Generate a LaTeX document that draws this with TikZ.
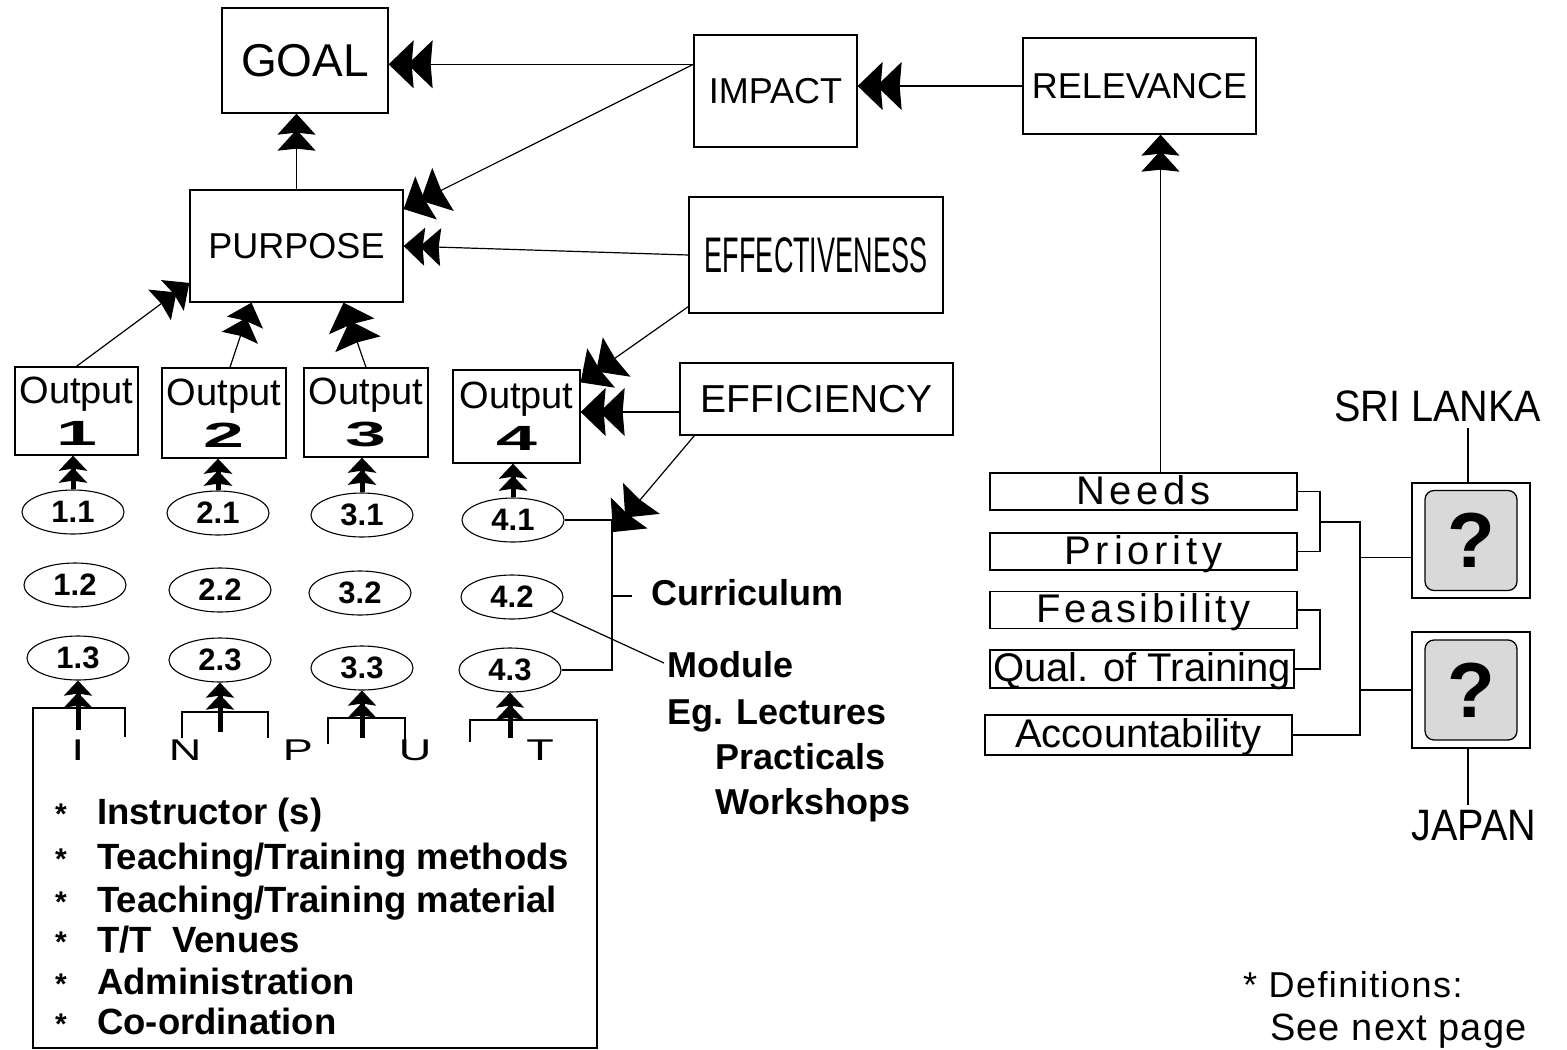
\documentclass[tikz,border=0pt]{standalone}
\usepackage{fontspec}
\usepackage{graphicx}
\setmainfont{Liberation Sans}
\usetikzlibrary{arrows.meta,shapes.geometric,calc}
\newcommand\FS[1]{\fontsize{#1}{#1}\selectfont}
\begin{document}
\begin{tikzpicture}[x=1pt,y=-1pt,
  box/.style={draw, line width=1.3pt, inner sep=0pt, align=center},
  ell/.style={draw, ellipse, line width=1.1pt, minimum width=102pt, minimum height=44pt, inner sep=0pt, font=\FS{31}\bfseries},
  crit/.style={draw, line width=1.3pt, inner sep=0pt, minimum height=37pt, text height=31pt, text depth=6pt, font=\FS{40}},
  ln/.style={line width=1.2pt},
  bigarr/.style={ln, -{Stealth[length=25pt,width=48pt,inset=2pt,sep=-6pt]Stealth[length=25pt,width=48pt,inset=2pt]}},
  medarr/.style={ln, -{Stealth[length=21pt,width=38pt,inset=2pt,sep=-5pt]Stealth[length=21pt,width=38pt,inset=2pt]}},
  smallarr/.style={line width=5pt, -{Stealth[length=15pt,width=28pt,inset=2pt,sep=-3pt]Stealth[length=15pt,width=28pt,inset=2pt]}},
  listtxt/.style={anchor=base west, inner sep=0pt, font=\FS{36.5}\bfseries},
  sidetxt/.style={anchor=base west, inner sep=0pt, font=\FS{36}\bfseries},
  startxt/.style={anchor=base west, inner sep=0pt, font=\FS{30}\bfseries},
  inlet/.style={anchor=base, inner sep=0pt, font=\FS{30}},
  qbox/.style={draw, line width=1.3pt, rounded corners=9pt, fill=black!15, minimum width=92pt, minimum height=100pt, inner sep=0pt, font=\FS{78}\bfseries}
]
\useasboundingbox (0,0) rectangle (1567,1050);

% ---- top boxes
\node[box, minimum width=166pt, minimum height=105pt, font=\FS{46}] (goal) at (305,60.5) {GOAL};
\node[box, minimum width=163pt, minimum height=112pt, font=\FS{36}] (impact) at (775.5,91) {IMPACT};
\node[box, minimum width=233pt, minimum height=96pt, font=\FS{36}] (relevance) at (1139.5,86) {RELEVANCE};
\node[box, minimum width=213pt, minimum height=112pt, font=\FS{36}] (purpose) at (296.5,246) {PURPOSE};
\node[box, minimum width=254pt, minimum height=116pt] (effect) at (816,255) {\scalebox{0.54}[1]{\FS{50}EFFECTIVENESS}};
\node[box, minimum width=273pt, minimum height=72pt, font=\FS{39}] (effic) at (816.5,399) {EFFICIENCY};

% ---- outputs
\node[box, minimum width=123pt, minimum height=88pt, font=\FS{38}] (o1) at (76.5,411) {Output\\[4pt]\scalebox{2.1}[1]{\bfseries\FS{35}1}};
\node[box, minimum width=124pt, minimum height=90pt, font=\FS{38}] (o2) at (224,413) {Output\\[4pt]\scalebox{2.1}[1]{\bfseries\FS{35}2}};
\node[box, minimum width=124pt, minimum height=89pt, font=\FS{38}] (o3) at (366,412.5) {Output\\[4pt]\scalebox{2.1}[1]{\bfseries\FS{35}3}};
\node[box, minimum width=127pt, minimum height=93pt, font=\FS{38}] (o4) at (516.5,416.5) {Output\\[4pt]\scalebox{2.1}[1]{\bfseries\FS{35}4}};

% ---- activities
\node[ell] (e11) at (73,512) {1.1};
\node[ell] (e12) at (75,585) {1.2};
\node[ell] (e13) at (78,658) {1.3};
\node[ell] (e21) at (218,513) {2.1};
\node[ell] (e22) at (220,590) {2.2};
\node[ell] (e23) at (220,660) {2.3};
\node[ell] (e31) at (362,515) {3.1};
\node[ell] (e32) at (360,593) {3.2};
\node[ell] (e33) at (362,668) {3.3};
\node[ell] (e41) at (513,520) {4.1};
\node[ell] (e42) at (512,597) {4.2};
\node[ell] (e43) at (510,670) {4.3};

% ---- INPUT box outline
\draw[ln] (125,737) -- (125,708) -- (33,708) -- (33,1048) -- (597,1048) -- (597,720) -- (470,720) -- (470,742);
\draw[ln] (182,738) -- (182,712) -- (268,712) -- (268,738);
\draw[ln] (328,744) -- (328,718) -- (405,718) -- (405,744);
\coordinate (tI) at (78,730);
\coordinate (tN) at (220,732);
\coordinate (tP) at (362,738);
\coordinate (tT) at (510,738);
\draw[smallarr] (tI) -- (e13.south);
\draw[smallarr] (tN) -- (e23.south);
\draw[smallarr] (tP) -- (e33.south);
\draw[smallarr] (tT) -- (e43.south);

\node[inlet] (lI) at (78,760) {\scalebox{1.5}[1]{I}};
\node[inlet] (lN) at (185,760) {\scalebox{1.5}[1]{N}};
\node[inlet] (lP) at (298,760) {\scalebox{1.5}[1]{P}};
\node[inlet] (lU) at (415,760) {\scalebox{1.5}[1]{U}};
\node[inlet] (lT) at (540,760) {\scalebox{1.5}[1]{T}};

\node[startxt] (s1) at (55,824) {*};
\node[startxt] (s2) at (55,869) {*};
\node[startxt] (s3) at (55,912) {*};
\node[startxt] (s4) at (55,952) {*};
\node[startxt] (s5) at (55,994) {*};
\node[startxt] (s6) at (55,1034) {*};
\node[listtxt] (t1) at (97,824) {Instructor (s)};
\node[listtxt] (t2) at (97,869) {Teaching/Training methods};
\node[listtxt] (t3) at (97,912) {Teaching/Training material};
\node[listtxt] (t4) at (97,952) {T/T\ \ Venues};
\node[listtxt] (t5) at (97,994) {Administration};
\node[listtxt] (t6) at (97,1034) {Co-ordination};

% ---- curriculum side
\node[sidetxt] (curr) at (651,605) {Curriculum};
\node[sidetxt] (module) at (667,677) {Module};
\node[sidetxt] (eg) at (667,724) {Eg. Lectures};
\node[sidetxt] (prac) at (715,769) {Practicals};
\node[sidetxt] (work) at (715,814) {Workshops};

\coordinate (jtop) at (612,518);
\coordinate (jbot) at (612,670);
\coordinate (jtip) at (613,532);
\draw[ln] (e41.east) -- (e41.east -| jtop) -- (jbot |- e43.east) -- (e43.east);
\draw[ln] (jtop |- 0,596) -- (632,596);
\draw[ln] (e42.-20) -- (664,663);

% ---- arrows upper part
\draw[bigarr] (impact.162) -- (impact.162 -| goal.east);
\draw[bigarr] (impact.162) -- (purpose.19);
\draw[bigarr] (relevance.west) -- (relevance.west -| impact.east);
\draw[medarr] (purpose.north) -- (purpose.north |- goal.south);
\draw[medarr] (effect.west) -- (purpose.east);
\draw[bigarr] (effect.-158) -- (o4.28);
\draw[bigarr] ([yshift=-13pt]effic.west) -- ([yshift=-13pt]effic.west -| o4.east);
\draw[bigarr] ([xshift=15pt]effic.south west) -- (jtip);
\draw[medarr] (o1.north) -- (purpose.-161);
\draw[medarr] ([xshift=6pt]o2.north) -- ([xshift=-45pt]purpose.south);
\draw[bigarr] (o3.north) -- ([xshift=47pt]purpose.south);

\draw[smallarr] (e11.north) -- (e11.north |- o1.south);
\draw[smallarr] (e21.north) -- (e21.north |- o2.south);
\draw[smallarr] (e31.north) -- (e31.north |- o3.south);
\draw[smallarr] (e41.north) -- (e41.north |- o4.south);

% ---- right side criteria
\node[crit, minimum width=307pt] (needs) at (1143.5,491.5) {\addfontfeatures{LetterSpace=12}Needs};
\node[crit, minimum width=307pt] (prio) at (1143.5,551.5) {\addfontfeatures{LetterSpace=12}Priority};
\node[crit, minimum width=307pt] (feas) at (1143.5,610) {\addfontfeatures{LetterSpace=9}Feasibility};
\node[crit, minimum width=304pt, minimum height=38pt] (qual) at (1142,669) {Qual. of Training};
\node[crit, minimum width=307pt, minimum height=40pt] (acc) at (1138.5,735) {Accountability};

\draw[medarr] ([xshift=17pt]needs.north) -- ([xshift=17pt]needs.north |- relevance.south);

\coordinate (bx1) at (1320,522);
\coordinate (bx2) at (1360,522);
\coordinate (bx3) at (1320,642);
\draw[ln] (needs.east) -| (bx1) |- (prio.east);
\draw[ln] (bx1) -- (bx2) |- (acc.east);
\draw[ln] (feas.east) -| (bx3) |- (qual.east);

\node[box, minimum width=118pt, minimum height=115pt] (sl) at (1471,540.5) {};
\node[qbox] (slq) at (sl) {?};
\node[box, minimum width=118pt, minimum height=116pt] (jp) at (1471,690) {};
\node[qbox] (jpq) at (jp) {?};

\draw[ln] (bx2 |- sl.-164) -- (sl.-164);
\draw[ln] (bx2 |- jp.west) -- (jp.west);

\node[inner sep=0pt, font=\FS{44}] (sltext) at (1438,406) {\scalebox{0.9}[1]{SRI LANKA}};
\node[inner sep=0pt, font=\FS{44}] (jptext) at (1474,826) {\scalebox{0.9}[1]{JAPAN}};
\draw[ln] ([xshift=-3pt]sl.north) -- ([xshift=-3pt]sl.north |- 0,428);
\draw[ln] ([xshift=-3pt]jp.south) -- ([xshift=-3pt]jp.south |- 0,805);

\node[anchor=base west, inner sep=0pt, font=\FS{36}] (def1) at (1243,997) {\addfontfeatures{LetterSpace=4}* Definitions:};
\node[anchor=base west, inner sep=0pt, font=\FS{38}] (def2) at (1270,1040) {\addfontfeatures{LetterSpace=3}See next page};
\end{tikzpicture}
\end{document}
